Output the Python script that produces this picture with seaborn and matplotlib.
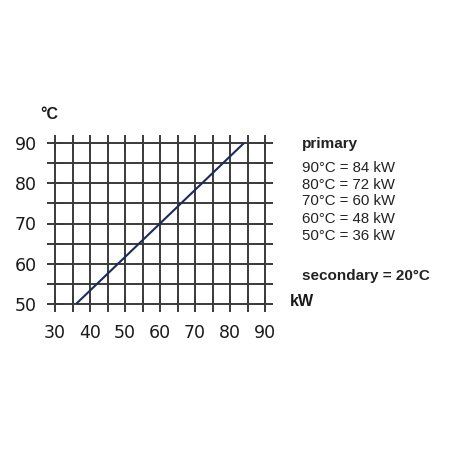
import numpy as np
import pandas as pd
import matplotlib
matplotlib.use("Agg")
import matplotlib.pyplot as plt
import seaborn as sns

# primary temperature (°C) and output (kW), secondary fixed at 20 °C
temps = [50, 60, 70, 80, 90]
power = [36, 48, 60, 72, 84]
secondary_temp = 20
x_ticks = [30, 40, 50, 60, 70, 80, 90]
y_ticks = [50, 60, 70, 80, 90]

df = pd.DataFrame({"kW": power, "degC": temps})

sns.set_style("white")
plt.rcParams["font.family"] = ["DejaVu Sans"]

fig = plt.figure(figsize=(4.5, 4.5), dpi=100)
ax = fig.add_axes([55 / 450, 1 - 304 / 450, 210 / 450, 161 / 450])

grid_col = "#3a3a3a"
lw = 1.4
sns.lineplot(data=df, x="kW", y="degC", color="#1c2a5c", linewidth=1.5, ax=ax, zorder=5)

ax.set_xlim(30, 90)
ax.set_ylim(50, 90)
ax.set_xticks(x_ticks)
ax.set_yticks(y_ticks)
ax.set_xticks(np.arange(35, 90, 10), minor=True)
ax.set_yticks(np.arange(55, 90, 10), minor=True)
ax.grid(True, which="both", color=grid_col, linewidth=lw)
for gl in ax.get_xgridlines() + ax.get_ygridlines():
    gl.set_clip_on(False)
for axis in (ax.xaxis, ax.yaxis):
    for t in axis.get_minor_ticks():
        t.gridline.set_clip_on(False)
for s in ax.spines.values():
    s.set_visible(False)
ax.tick_params(which="both", direction="inout", length=12, width=lw, color=grid_col,
               top=True, right=True, bottom=True, left=True,
               labelsize=12.5, labelcolor="#1a1a1a")
ax.tick_params(axis="x", pad=8.5)
ax.tick_params(axis="y", pad=7)
ax.set_xlabel("")
ax.set_ylabel("")

unit = dict(family=["Liberation Sans", "DejaVu Sans"], fontsize=11.5, fontweight="bold",
            color="#1a1a1a", va="center", ha="left")
fig.text(40 / 450, 1 - 114 / 450, "°C", **unit)
fig.text(290 / 450, 1 - 302 / 450, "kW", **unit)

lab = dict(family=["Liberation Sans", "DejaVu Sans"], color="#222222", va="center", ha="left")
fig.text(302 / 450, 1 - 144 / 450, "primary", fontsize=11, fontweight="bold", **lab)
ys = [235.7, 219, 201, 185, 167.7]
for t, p, yy in zip(temps, power, ys):
    fig.text(302 / 450, 1 - yy / 450, f"{t}°C = {p} kW", fontsize=10.8, **lab)
fig.text(302 / 450, 1 - 275.7 / 450, f"secondary = {secondary_temp}°C", fontsize=11,
         fontweight="bold", **lab)

fig.savefig("out.png", dpi=100)
